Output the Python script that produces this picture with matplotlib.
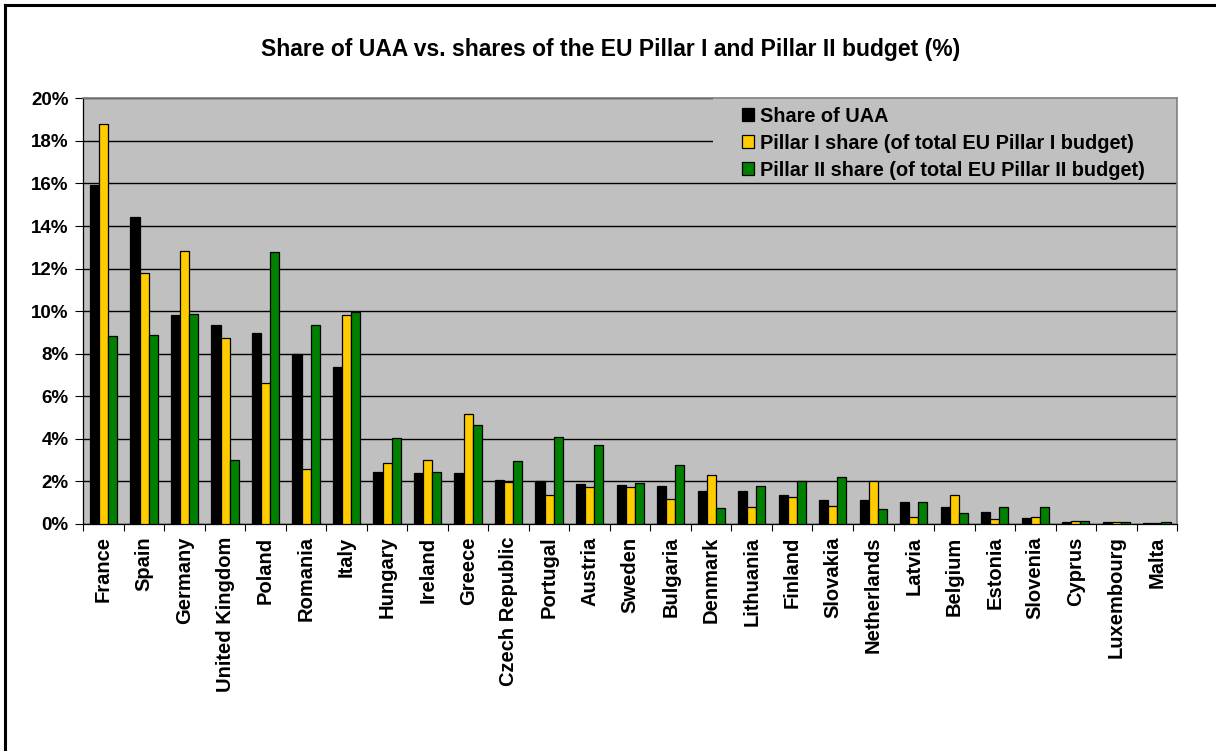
from matplotlib import pyplot as plt
import numpy as np
import matplotlib.ticker as mtick
from matplotlib.lines import Line2D
from matplotlib.patches import Rectangle

plt.rc('font', family='Liberation Sans', weight='bold')

countries = ['France', 'Spain', 'Germany', 'United Kingdom', 'Poland', 'Romania', 'Italy',
             'Hungary', 'Ireland', 'Greece', 'Czech Republic', 'Portugal', 'Austria', 'Sweden',
             'Bulgaria', 'Denmark', 'Lithuania', 'Finland', 'Slovakia', 'Netherlands', 'Latvia',
             'Belgium', 'Estonia', 'Slovenia', 'Cyprus', 'Luxembourg', 'Malta']
share_uaa = [15.95, 14.43, 9.81, 9.36, 8.97, 7.98, 7.40, 2.46, 2.41, 2.38, 2.06, 2.03, 1.87, 1.83,
             1.79, 1.57, 1.55, 1.35, 1.15, 1.15, 1.05, 0.82, 0.55, 0.30, 0.09, 0.08, 0.03]
pillar1 = [18.80, 11.80, 12.83, 8.72, 6.63, 2.58, 9.84, 2.87, 3.01, 5.15, 1.97, 1.35, 1.72, 1.73,
           1.19, 2.32, 0.82, 1.29, 0.83, 2.01, 0.31, 1.36, 0.22, 0.33, 0.13, 0.08, 0.03]
pillar2 = [8.83, 8.86, 9.87, 2.99, 12.77, 9.36, 9.95, 4.05, 2.43, 4.65, 2.94, 4.08, 3.69, 1.91,
           2.75, 0.74, 1.77, 2.01, 2.21, 0.72, 1.04, 0.53, 0.78, 0.78, 0.16, 0.09, 0.08]

series = [('Share of UAA', share_uaa, '#000000'),
          ('Pillar I share (of total EU Pillar I budget)', pillar1, '#FFCC00'),
          ('Pillar II share (of total EU Pillar II budget)', pillar2, '#008000')]

fig = plt.figure(figsize=(12.16, 7.51), dpi=100)
ax = fig.add_axes([0.0685, 0.3023, 0.8995, 0.5667])
ax.set_facecolor('#C0C0C0')

x = np.arange(len(countries))
width = 0.225
for i, (label, vals, color) in enumerate(series):
    ax.bar(x + (i - 1) * width, vals, width, color=color, edgecolor='black',
           linewidth=0.9, label=label, zorder=3)

ax.set_xlim(-0.5, len(countries) - 0.5)
ax.set_ylim(0, 20)
ax.set_yticks(np.arange(0, 21, 2))
ax.yaxis.set_major_formatter(mtick.FuncFormatter(lambda v, p: f'{v:.0f}%'))
ax.grid(axis='y', color='black', linewidth=1.0, zorder=1)
ax.set_axisbelow(True)

ax.set_xticks(x)
ax.set_xticklabels(countries, rotation=90, fontsize=14.5, fontweight='bold')
ax.set_xticks(np.arange(-0.5, len(countries), 1), minor=True)
ax.tick_params(axis='x', which='major', length=0, pad=9)
ax.tick_params(axis='x', which='minor', length=5, width=0.8, color='black')
ax.tick_params(axis='y', length=6, width=0.8, labelsize=13.5, pad=4.5)

for side in ['top', 'right']:
    ax.spines[side].set_color('#808080')
    ax.spines[side].set_linewidth(1.2)
ax.spines['left'].set_color('black')
ax.spines['bottom'].set_color('black')
ax.spines['left'].set_linewidth(0.9)
ax.spines['bottom'].set_linewidth(0.9)

# legend box: plain grey patch over the gridlines, down to the 16% line
ax.add_patch(Rectangle((0.5758, 16.06), 1 - 0.5758, 20 - 16.06,
                       transform=ax.get_yaxis_transform(), facecolor='#C0C0C0',
                       edgecolor='none', zorder=2))
leg = ax.legend(loc='upper left', bbox_to_anchor=(0.602, 0.98), fontsize=14.3,
                frameon=False, handlelength=0.62, handleheight=0.62, handletextpad=0.3,
                labelspacing=0.4, borderpad=0, borderaxespad=0)
leg.set_zorder(5)

fig.suptitle('Share of UAA vs. shares of the EU Pillar I and Pillar II budget (%)',
             x=0.502, y=0.949, fontsize=16.5, fontweight='bold')

# chart area frame, open at the right and bottom edges
fig.add_artist(Line2D([5 / 1216, 1.0], [1 - 5 / 751, 1 - 5 / 751], color='black',
                      linewidth=2.2, transform=fig.transFigure))
fig.add_artist(Line2D([5 / 1216, 5 / 1216], [0.0, 1 - 5 / 751], color='black',
                      linewidth=2.2, transform=fig.transFigure))

fig.savefig('out.png', dpi=100)
